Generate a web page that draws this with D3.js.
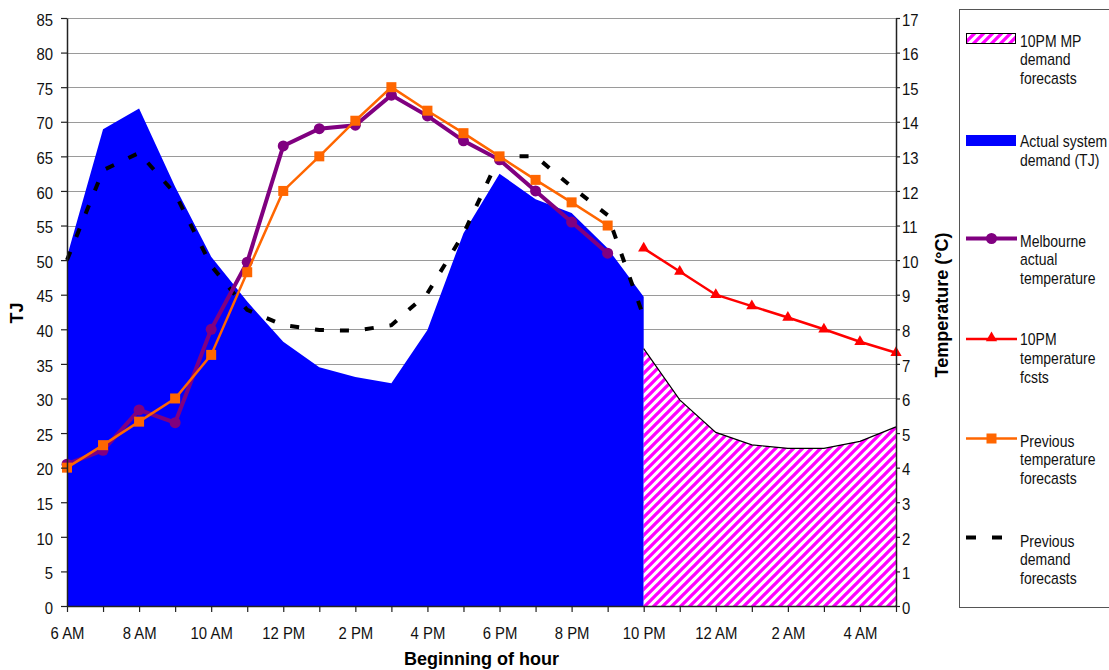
<!DOCTYPE html>
<html>
<head>
<meta charset="utf-8">
<script src="https://cdn.jsdelivr.net/npm/d3@7"></script>
<style>
  html, body { margin: 0; padding: 0; background: #fff; }
  svg { display: block; font-family: "Liberation Sans", Arial, sans-serif; }
</style>
</head>
<body>
<svg id="chart" width="1109" height="670"></svg>
<script>
// ---------- data ----------
const categories = ["6 AM","7 AM","8 AM","9 AM","10 AM","11 AM","12 PM","1 PM","2 PM","3 PM","4 PM","5 PM",
                    "6 PM","7 PM","8 PM","9 PM","10 PM","11 PM","12 AM","1 AM","2 AM","3 AM","4 AM","5 AM"];
const tickLabels = ["6 AM","8 AM","10 AM","12 PM","2 PM","4 PM","6 PM","8 PM","10 PM","12 AM","2 AM","4 AM"];
const leftTicks = [0,5,10,15,20,25,30,35,40,45,50,55,60,65,70,75,80,85];
const rightTicks = [0,1,2,3,4,5,6,7,8,9,10,11,12,13,14,15,16,17];

// TJ (left axis)
const actualDemand = [50.5, 68.9, 71.9, 60.6, 50.5, 44.0, 38.2, 34.5, 33.1, 32.2, 39.9, 53.9,
                      62.5, 58.8, 56.8, 51.7, 44.7, null, null, null, null, null, null, null];
const mpDemandFcst = [null, null, null, null, null, null, null, null, null, null, null, null,
                      null, null, null, null, 37.2, 29.8, 25.1, 23.3, 22.8, 22.8, 23.8, 25.9];
const prevDemandFcst = [50.0, 63.0, 65.5, 59.6, 49.2, 42.8, 40.6, 39.9, 39.8, 40.6, 45.2, 53.8,
                        65.0, 65.0, 60.6, 56.5, 41.8, null, null, null, null, null, null, null];
// °C (right axis)
const actualTemp = [4.1, 4.5, 5.67, 5.3, 8.0, 9.94, 13.3, 13.8, 13.9, 14.77, 14.17, 13.45,
                    12.9, 12.0, 11.1, 10.2, null, null, null, null, null, null, null, null];
const tempFcst10pm = [null, null, null, null, null, null, null, null, null, null, null, null,
                      null, null, null, null, 10.34, 9.67, 9.0, 8.67, 8.34, 8.0, 7.64, 7.32];
const prevTempFcst = [4.0, 4.65, 5.33, 6.0, 7.26, 9.65, 12.0, 13.0, 14.03, 15.0, 14.32, 13.67,
                      13.0, 12.32, 11.67, 11.0, null, null, null, null, null, null, null, null];

const legendItems = [
  {key: "mp", lines: ["10PM MP", "demand", "forecasts"]},
  {key: "actual", lines: ["Actual system", "demand (TJ)"]},
  {key: "mtemp", lines: ["Melbourne", "actual", "temperature"]},
  {key: "tf10", lines: ["10PM", "temperature", "fcsts"]},
  {key: "ptf", lines: ["Previous", "temperature", "forecasts"]},
  {key: "pdf", lines: ["Previous", "demand", "forecasts"]}
];

// ---------- layout ----------
const svg = d3.select("#chart");
const L = 67, R = 896, T = 18, B = 606;
const x = d3.scalePoint().domain(categories).range([L, R]);
const yL = d3.scaleLinear().domain([0, 85]).range([B, T]);
const yR = d3.scaleLinear().domain([0, 17]).range([B, T]);

function squish(sel, r) {
  sel.each(function () {
    const w = this.getComputedTextLength();
    this.setAttribute("textLength", w * r);
    this.setAttribute("lengthAdjust", "spacingAndGlyphs");
  });
}

// hatch pattern
const defs = svg.append("defs");
const pat = defs.append("pattern").attr("id", "hatch").attr("patternUnits", "userSpaceOnUse")
  .attr("width", 9).attr("height", 9);
pat.append("rect").attr("width", 9).attr("height", 9).attr("fill", "#fff");
pat.append("path").attr("d", "M-1,10 L10,-1 M-3,3 L3,-3 M6,12 L12,6")
  .attr("stroke", "#ff00ff").attr("stroke-width", 3.3);

// gridlines
svg.append("g").selectAll("line").data(leftTicks).join("line")
  .attr("x1", L).attr("x2", R).attr("y1", d => Math.round(yL(d)) + 0.5).attr("y2", d => Math.round(yL(d)) + 0.5)
  .attr("stroke", "#9a9a9a").attr("stroke-width", 1);

// areas
const vals = arr => categories.map((c, i) => ({c, v: arr[i]}));
const areaL = d3.area().defined(d => d.v != null).x(d => x(d.c)).y0(yL(0)).y1(d => yL(d.v));
const lineL = d3.line().defined(d => d.v != null).x(d => x(d.c)).y(d => yL(d.v));
const lineR = d3.line().defined(d => d.v != null).x(d => x(d.c)).y(d => yR(d.v));

svg.append("path").datum(vals(actualDemand)).attr("d", areaL).attr("fill", "#0000ff");
svg.append("path").datum(vals(mpDemandFcst)).attr("d", areaL).attr("fill", "url(#hatch)");
svg.append("path").datum(vals(mpDemandFcst)).attr("d", lineL).attr("fill", "none")
  .attr("stroke", "#000").attr("stroke-width", 1.2);

// previous demand forecasts (dashed)
svg.append("path").datum(vals(prevDemandFcst)).attr("d", lineL).attr("fill", "none")
  .attr("stroke", "#000").attr("stroke-width", 4).attr("stroke-dasharray", "9,16");

// Melbourne actual temperature
svg.append("path").datum(vals(actualTemp)).attr("d", lineR).attr("fill", "none")
  .attr("stroke", "#800080").attr("stroke-width", 4);
svg.append("g").selectAll("circle").data(vals(actualTemp).filter(d => d.v != null)).join("circle")
  .attr("cx", d => x(d.c)).attr("cy", d => yR(d.v)).attr("r", 5.5).attr("fill", "#800080");

// 10PM temperature fcsts
svg.append("path").datum(vals(tempFcst10pm)).attr("d", lineR).attr("fill", "none")
  .attr("stroke", "#ff0000").attr("stroke-width", 2.5);
const tri = d3.symbol().type(d3.symbolTriangle).size(55);
svg.append("g").selectAll("path").data(vals(tempFcst10pm).filter(d => d.v != null)).join("path")
  .attr("d", tri).attr("transform", d => `translate(${x(d.c)},${yR(d.v)})`).attr("fill", "#ff0000");

// previous temperature forecasts
svg.append("path").datum(vals(prevTempFcst)).attr("d", lineR).attr("fill", "none")
  .attr("stroke", "#ff6600").attr("stroke-width", 2.5);
svg.append("g").selectAll("rect").data(vals(prevTempFcst).filter(d => d.v != null)).join("rect")
  .attr("x", d => x(d.c) - 5).attr("y", d => yR(d.v) - 5).attr("width", 10).attr("height", 10)
  .attr("fill", "#ff6600");

// axes
const gL = svg.append("g").attr("transform", `translate(${L},0)`)
  .call(d3.axisLeft(yL).tickValues(leftTicks).tickSize(6).tickPadding(8).tickSizeOuter(0));
const gR = svg.append("g").attr("transform", `translate(${R},0)`)
  .call(d3.axisRight(yR).tickValues(rightTicks).tickSize(4).tickPadding(2).tickSizeOuter(0));
const gB = svg.append("g").attr("transform", `translate(0,${B})`)
  .call(d3.axisBottom(x).tickSize(6).tickPadding(16).tickSizeOuter(0)
    .tickFormat(d => tickLabels.includes(d) ? d : ""));
[gL, gR, gB].forEach(g => {
  g.select(".domain").attr("stroke", "#222").attr("stroke-width", 1.5);
  g.selectAll(".tick line").attr("stroke", "#222").attr("stroke-width", 1.2);
  g.selectAll(".tick text").attr("font-size", 16).attr("fill", "#111")
    .attr("font-family", "'Liberation Sans', Arial, sans-serif");
});
gL.selectAll(".tick text").attr("dy", "0.45em");
gR.selectAll(".tick text").attr("dy", "0.45em");
[gL, gR, gB].forEach(g => squish(g.selectAll(".tick text"), 0.93));

// axis titles
svg.append("text").attr("x", (L + R) / 2).attr("y", 665).attr("text-anchor", "middle")
  .attr("font-size", 18).attr("font-weight", "bold").text("Beginning of hour");
svg.append("text").attr("transform", "translate(23,313) rotate(-90)").attr("text-anchor", "middle")
  .attr("font-size", 18).attr("font-weight", "bold").text("TJ");
svg.append("text").attr("transform", "translate(948,305) rotate(-90)").attr("text-anchor", "middle")
  .attr("font-size", 18).attr("font-weight", "bold").text("Temperature (°C)");

// legend
const lg = svg.append("g");
lg.append("rect").attr("x", 959.5).attr("y", 9.5).attr("width", 170).attr("height", 598)
  .attr("fill", "#fff").attr("stroke", "#555").attr("stroke-width", 1);
const legendTop = {mp: 46.5, actual: 147, mtemp: 246.5, tf10: 345, ptf: 446.5, pdf: 546.5};
const sw = lg.append("g");
sw.append("rect").attr("x", 966.5).attr("y", 33.5).attr("width", 49).attr("height", 10)
  .attr("fill", "url(#hatch)").attr("stroke", "#000").attr("stroke-width", 1);
sw.append("rect").attr("x", 966).attr("y", 135).attr("width", 50).attr("height", 11).attr("fill", "#0000ff");
sw.append("line").attr("x1", 966).attr("x2", 1017).attr("y1", 238.5).attr("y2", 238.5)
  .attr("stroke", "#800080").attr("stroke-width", 4);
sw.append("circle").attr("cx", 991.5).attr("cy", 238.5).attr("r", 5.5).attr("fill", "#800080");
sw.append("line").attr("x1", 966).attr("x2", 1017).attr("y1", 339).attr("y2", 339)
  .attr("stroke", "#ff0000").attr("stroke-width", 2.5);
sw.append("path").attr("d", tri).attr("transform", "translate(991.5,338)").attr("fill", "#ff0000");
sw.append("line").attr("x1", 966).attr("x2", 1017).attr("y1", 438.5).attr("y2", 438.5)
  .attr("stroke", "#ff6600").attr("stroke-width", 2.5);
sw.append("rect").attr("x", 986.5).attr("y", 433.5).attr("width", 10).attr("height", 10).attr("fill", "#ff6600");
sw.append("line").attr("x1", 966).attr("x2", 1017).attr("y1", 537.5).attr("y2", 537.5)
  .attr("stroke", "#000").attr("stroke-width", 4).attr("stroke-dasharray", "10,16");

// legend labels: 14px type stretched vertically to match the condensed look
const vs = 1.14;
legendItems.forEach(it => {
  const t = lg.append("text").attr("font-size", 14).attr("fill", "#111")
    .attr("transform", `translate(1020,${legendTop[it.key]}) scale(1,${vs})`);
  it.lines.forEach((ln, i) => {
    t.append("tspan").attr("x", 0).attr("y", i * 19 / vs).text(ln);
  });
});
</script>
</body>
</html>
